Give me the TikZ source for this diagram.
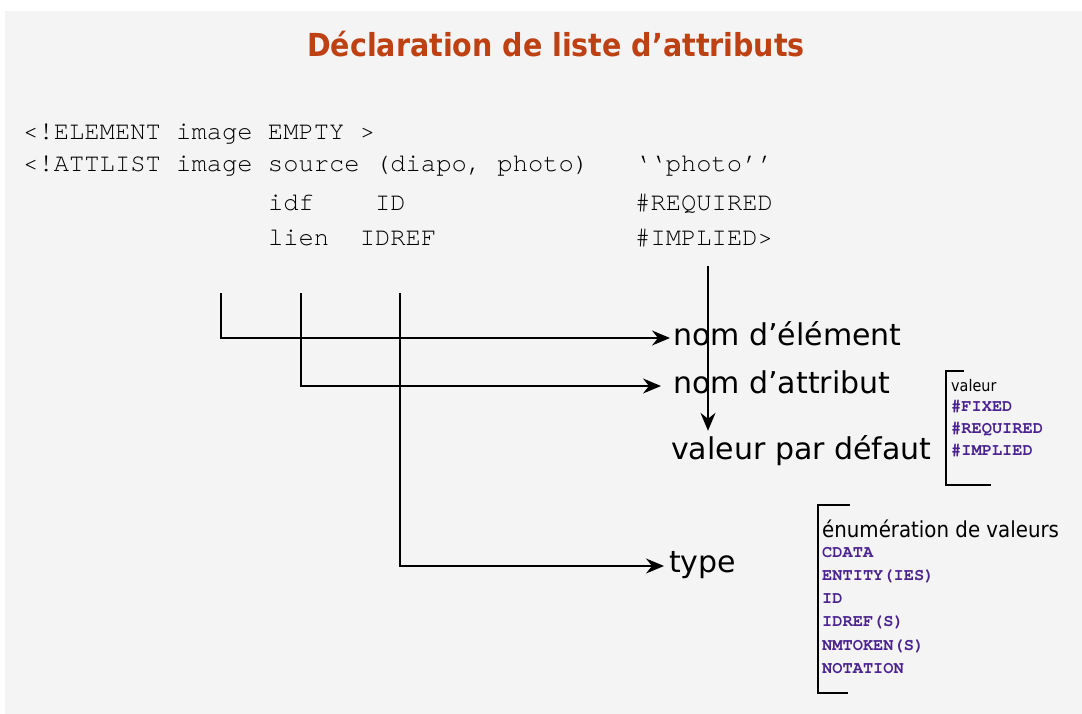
\documentclass[tikz,border=0pt]{standalone}
\usepackage{fontspec}
\setmainfont{DejaVu Sans}
\newfontfamily\codefont{TeX Gyre Cursor}
\newfontfamily\condfont[FakeStretch=0.9]{DejaVu Sans}
\usetikzlibrary{arrows.meta}
\definecolor{titlecol}{RGB}{190,65,20}
\definecolor{kwcol}{RGB}{75,35,145}
\definecolor{bgcol}{RGB}{244,244,244}

\begin{document}
\begin{tikzpicture}[x=1pt,y=-1pt,
    code/.style={anchor=base west,inner sep=0pt,font=\codefont\fontsize{25.5}{30}\selectfont},
    lbl/.style={anchor=base west,inner sep=0pt,font=\fontsize{30}{36}\selectfont},
    kw/.style={anchor=base west,inner sep=0pt,text=kwcol,font=\codefont\bfseries\fontsize{17}{20}\selectfont},
    note/.style={anchor=base west,inner sep=0pt,font=\condfont\fontsize{#1}{#1}\selectfont},
    conn/.style={line width=1.6pt,-{Stealth[length=18pt,width=15pt,inset=6pt]}},
    brk/.style={line width=1.3pt}]
  \def\cx{23}
  \def\cw{15.3}
  \def\lx{673}
  \useasboundingbox (0,0) rectangle (1082,714);
  \fill[white] (0,0) rectangle (1082,714);
  \fill[bgcol] (5,11) rectangle (1082,714);
  %title
  \node[anchor=base,inner sep=0pt,text=titlecol,font=\condfont\bfseries\fontsize{31.7}{36}\selectfont]
    (title) at (556,57) {Déclaration de liste d’attributs};
  %dtd lines
  \node[code] (l1) at (\cx,140) {<!ELEMENT image EMPTY >};
  \node[code] (l2) at (\cx,172) {<!ATTLIST image source (diapo, photo)~~~‘‘photo’’};
  \node[code] (l3) at (\cx+16*\cw,211) {idf~~~~ID~~~~~~~~~~~~~~~\#REQUIRED};
  \node[code] (l4) at (\cx+16*\cw,246) {lien~~IDREF~~~~~~~~~~~~~\#IMPLIED>};

  %labels
  \node[lbl] (nomelt) at (\lx,345) {nom d’élément};
  \node[lbl] (nomattr) at (\lx,393) {nom d’attribut};
  \node[lbl] (defval) at (\lx-2,459) {valeur par défaut};
  \node[lbl] (type) at (\lx-4,572) {type};

  %connectors
  \coordinate (elt) at (221,293);
  \coordinate (att) at (301,293);
  \coordinate (typ) at (400,293);
  \coordinate (dft) at (708,266);
  \draw[conn] (elt) |- ([xshift=-3pt,yshift=7pt]nomelt.base west);
  \draw[conn] (att) |- ([xshift=-12pt,yshift=7pt]nomattr.base west);
  \draw[conn] (typ) |- ([xshift=-5pt,yshift=6pt]type.base west);
  \draw[conn,shorten >=4pt] (dft) -- (dft |- defval.north);

  %default values
  \draw[brk] (964,371) -- (946,371) -- (946,485) -- (991,485);
  \node[note=16] (val) at (951,391) {valeur};
  \node[kw] (fixed) at (951,411) {\#FIXED};
  \node[kw] (req) at (951,433) {\#REQUIRED};
  \node[kw] (impl) at (951,455) {\#IMPLIED};

  %types
  \draw[brk] (850,505) -- (818,505) -- (818,693) -- (848,693);
  \node[note=22] (enum) at (822,537) {énumération de valeurs};
  \node[kw] (cdata) at (822,557) {CDATA};
  \node[kw] (entity) at (822,580.3) {ENTITY(IES)};
  \node[kw] (idt) at (822,603.6) {ID};
  \node[kw] (idref) at (822,626.9) {IDREF(S)};
  \node[kw] (nmtoken) at (822,650.2) {NMTOKEN(S)};
  \node[kw] (notation) at (822,673.5) {NOTATION};
\end{tikzpicture}
\end{document}
